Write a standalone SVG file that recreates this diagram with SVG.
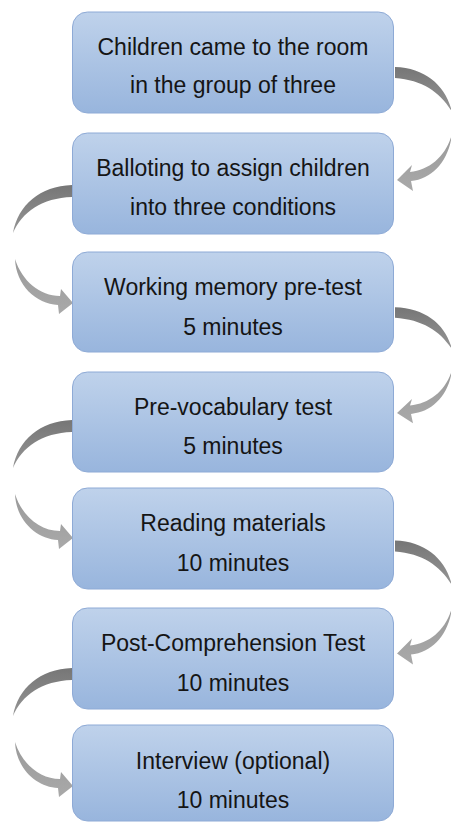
<svg xmlns="http://www.w3.org/2000/svg" xmlns:xlink="http://www.w3.org/1999/xlink" width="451" height="823" viewBox="0 0 451 823">
<defs>
<linearGradient id="boxg" x1="0" y1="0" x2="0" y2="1">
<stop offset="0" stop-color="#bfd2eb"/>
<stop offset="1" stop-color="#98b5dd"/>
</linearGradient>
<linearGradient id="arrA" x1="0" y1="0" x2="0" y2="1">
<stop offset="0" stop-color="#767676"/>
<stop offset="1" stop-color="#959595"/>
</linearGradient>
<linearGradient id="arrB" x1="0" y1="0" x2="0" y2="1">
<stop offset="0" stop-color="#9a9a9a"/>
<stop offset="1" stop-color="#a9a9a9"/>
</linearGradient>
<g id="rightArrow">
<path fill="url(#arrA)" d="M 395 67 C 426 68, 446 86, 452 112 C 441 93, 423 80, 395 78 Z"/>
<path fill="url(#arrB)" d="M 452 134 C 446 156, 430 170, 410 172 L 412 165 L 397 180 L 413 191 L 411 181 C 433 179, 449 160, 452 134 Z"/>
</g>
<g id="leftArrow">
<path fill="url(#arrA)" d="M 72 185 C 40 186, 18 205, 13 233 C 22 212, 42 198, 72 197 Z"/>
<path fill="url(#arrB)" d="M 15 259 C 22 281, 40 296, 60 296 L 61 289 L 73 303 L 59 314 L 58 305 C 36 304, 16 285, 15 259 Z"/>
</g>
</defs>
<style>
.box { fill: url(#boxg); stroke: #8eaad6; stroke-width: 1; }
.lbl { font-family: "Liberation Sans", Arial, sans-serif; font-size: 23px; fill: #151515; text-anchor: middle; }
</style>
<rect width="451" height="823" fill="#ffffff"/>
<g id="connectors">
<use xlink:href="#rightArrow"/>
<use xlink:href="#leftArrow"/>
<use xlink:href="#rightArrow" transform="translate(0,312.5) scale(1,0.935) translate(0,-72.5)"/>
<use xlink:href="#leftArrow" transform="translate(0,235)"/>
<use xlink:href="#rightArrow" transform="translate(0,473.5)"/>
<use xlink:href="#leftArrow" transform="translate(0,483)"/>
</g>
<g id="node1">
<rect class="box" x="72.5" y="12" width="321" height="101" rx="15"/>
<text class="lbl" x="233" y="55">Children came to the room</text>
<text class="lbl" x="233" y="93">in the group of three</text>
</g>
<g id="node2">
<rect class="box" x="72.5" y="133" width="321" height="101" rx="15"/>
<text class="lbl" x="233" y="176">Balloting to assign children</text>
<text class="lbl" x="233" y="215">into three conditions</text>
</g>
<g id="node3">
<rect class="box" x="72.5" y="252" width="321" height="100" rx="15"/>
<text class="lbl" x="233" y="295">Working memory pre-test</text>
<text class="lbl" x="233" y="335">5 minutes</text>
</g>
<g id="node4">
<rect class="box" x="72.5" y="372" width="321" height="100" rx="15"/>
<text class="lbl" x="233" y="415">Pre-vocabulary test</text>
<text class="lbl" x="233" y="454">5 minutes</text>
</g>
<g id="node5">
<rect class="box" x="72.5" y="488" width="321" height="101" rx="15"/>
<text class="lbl" x="233" y="531">Reading materials</text>
<text class="lbl" x="233" y="571">10 minutes</text>
</g>
<g id="node6">
<rect class="box" x="72.5" y="608" width="321" height="101" rx="15"/>
<text class="lbl" x="233" y="651">Post-Comprehension Test</text>
<text class="lbl" x="233" y="691">10 minutes</text>
</g>
<g id="node7">
<rect class="box" x="72.5" y="725" width="321" height="96" rx="15"/>
<text class="lbl" x="233" y="769">Interview (optional)</text>
<text class="lbl" x="233" y="808">10 minutes</text>
</g>
</svg>
